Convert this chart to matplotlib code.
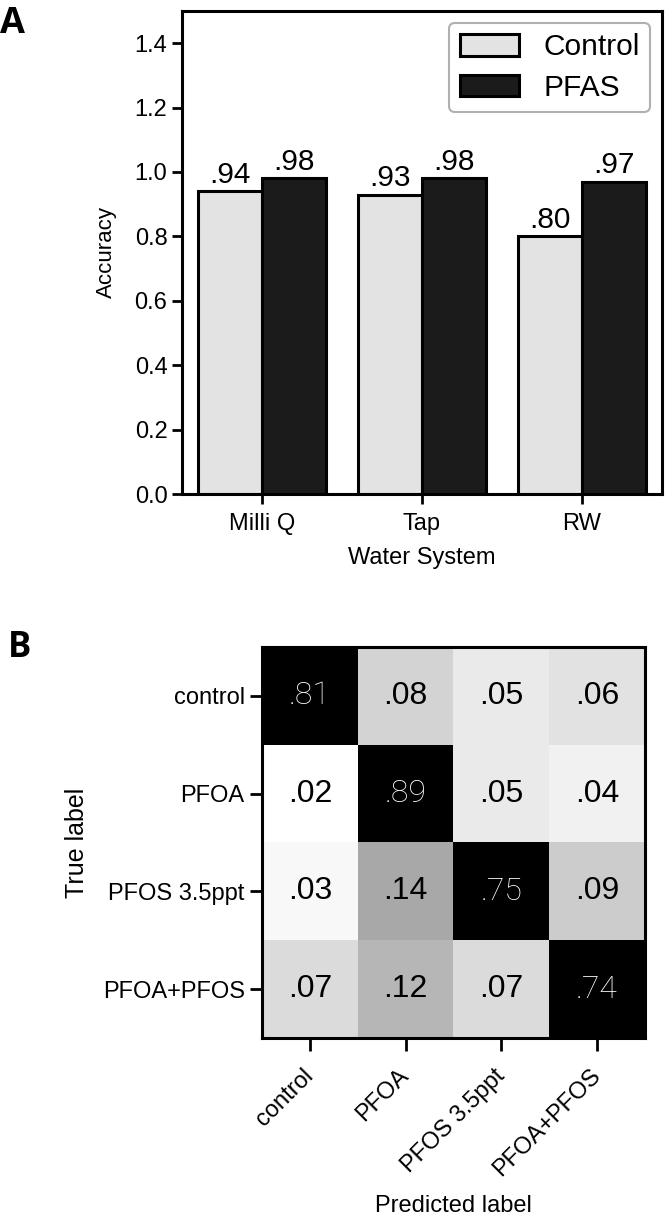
import matplotlib
matplotlib.use("Agg")
import matplotlib.pyplot as plt
import numpy as np

plt.rcParams['font.family'] = ['Liberation Sans', 'DejaVu Sans']

# panel A data
systems = ['Milli Q', 'Tap', 'RW']
control_acc = [0.94, 0.93, 0.80]
pfas_acc = [0.98, 0.98, 0.97]

# panel B data (row = true label, col = predicted label)
classes = ['control', 'PFOA', 'PFOS 3.5ppt', 'PFOA+PFOS']
conf = [[0.81, 0.08, 0.05, 0.06],
        [0.02, 0.89, 0.05, 0.04],
        [0.03, 0.14, 0.75, 0.09],
        [0.07, 0.12, 0.07, 0.74]]


def short(v):
    return f'{v:.2f}'.lstrip('0')


fig = plt.figure(figsize=(6.72, 12.18), dpi=100)

# ---- A: bar chart
ax = fig.add_axes([0.2708, 0.5944, 0.7143, 0.3966])
x = np.arange(len(systems))
w = 0.4
b1 = ax.bar(x - w / 2, control_acc, w, color='#e3e3e3', edgecolor='black',
            linewidth=2.2, label='Control')
b2 = ax.bar(x + w / 2, pfas_acc, w, color='#1b1b1b', edgecolor='black',
            linewidth=2.2, label='PFAS')
ax.bar_label(b1, labels=[short(v) for v in control_acc], padding=2, fontsize=21.5)
ax.bar_label(b2, labels=[short(v) for v in pfas_acc], padding=2, fontsize=21.5)

ax.set_xlim(-0.5, 2.5)
ax.set_ylim(0, 1.5)
ax.set_yticks(np.arange(0, 1.41, 0.2))
ax.set_xticks(x)
ax.set_xticklabels(systems)
ax.tick_params(labelsize=17, width=2, length=7)
ax.tick_params(axis='x', pad=7)
ax.set_xlabel('Water System', fontsize=17, labelpad=8)
ax.set_ylabel('Accuracy', fontsize=16, labelpad=13)
for s in ax.spines.values():
    s.set_linewidth(2.2)

leg = ax.legend(loc='upper right', fontsize=21.5, handlelength=2.0,
                handleheight=0.73, borderaxespad=0.4, framealpha=1,
                handletextpad=0.8, borderpad=0.35, labelspacing=0.42)
leg.get_frame().set_edgecolor('#b0b0b0')
leg.get_frame().set_linewidth(1.5)

fig.text(0.0, 0.995, 'A', fontsize=26, fontweight='bold', family='Open Sans',
         va='top', ha='left')

# ---- B: confusion matrix
axb = fig.add_axes([0.3899, 0.1478, 0.5699, 0.321])
cm = np.array(conf)
axb.imshow(cm, cmap='gray_r', vmin=0.02, vmax=0.37, aspect='auto')
for i in range(cm.shape[0]):
    for j in range(cm.shape[1]):
        if i == j:
            axb.text(j, i, short(cm[i, j]), ha='center', va='center',
                     color='white', fontsize=23, family=['Roboto', 'Liberation Sans'],
                     fontweight='light')
        else:
            axb.text(j, i, short(cm[i, j]), ha='center', va='center',
                     color='black', fontsize=23)

axb.set_xticks(range(len(classes)))
axb.set_yticks(range(len(classes)))
axb.set_xticklabels(classes, rotation=45, ha='right', va='center',
                    rotation_mode='anchor')
axb.set_yticklabels(classes)
axb.tick_params(labelsize=17, width=2, length=9)
axb.tick_params(axis='x', pad=16)
axb.set_xlabel('Predicted label', fontsize=17, labelpad=10)
axb.set_ylabel('True label', fontsize=18, labelpad=10)
for s in axb.spines.values():
    s.set_linewidth(2.2)

fig.text(0.012, 0.483, 'B', fontsize=25, fontweight='bold', family='Open Sans',
         va='top', ha='left')

fig.savefig('out.png', dpi=100)
